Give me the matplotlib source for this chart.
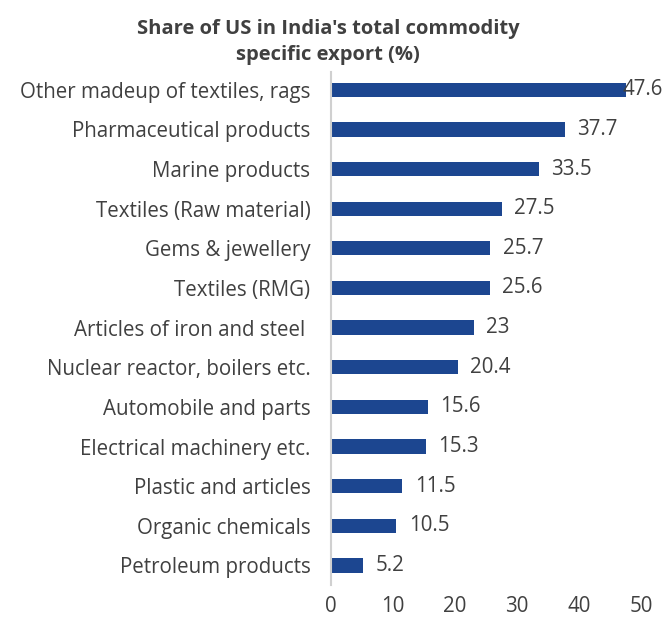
import matplotlib
matplotlib.use("Agg")
import matplotlib.pyplot as plt

# Share of the US in India's export of each commodity group, percent
commodities = [
    "Other madeup of textiles, rags",
    "Pharmaceutical products",
    "Marine products",
    "Textiles (Raw material)",
    "Gems & jewellery",
    "Textiles (RMG)",
    "Articles of iron and steel ",
    "Nuclear reactor, boilers etc.",
    "Automobile and parts",
    "Electrical machinery etc.",
    "Plastic and articles",
    "Organic chemicals",
    "Petroleum products",
]
us_share = [47.6, 37.7, 33.5, 27.5, 25.7, 25.6, 23, 20.4, 15.6, 15.3, 11.5, 10.5, 5.2]
share_labels = ["47.6", "37.7", "33.5", "27.5", "25.7", "25.6", "23", "20.4",
                "15.6", "15.3", "11.5", "10.5", "5.2"]
x_ticks = [0, 10, 20, 30, 40, 50]

BAR = "#1c4690"
TEXT = "#404040"
FS = 14.8
plt.rcParams["font.family"] = ["Open Sans", "DejaVu Sans"]

fig = plt.figure(figsize=(6.65, 6.2), dpi=100)
ax = fig.add_axes([0.498, 0.056, 0.466, 0.828])

pos = list(range(len(commodities)))
ax.barh(pos, us_share, height=0.36, color=BAR)
ax.set_ylim(12.5, -0.45)
ax.set_xlim(0, 50)

for i, (v, lab) in enumerate(zip(us_share, share_labels)):
    if v + 2 + 6 > 53:
        # no room right of the longest bar, pin label to the right edge
        ax.text(53.6, i, lab, ha="right", va="center", fontsize=FS, color=TEXT,
                clip_on=False)
    else:
        ax.text(v + 2, i, lab, ha="left", va="center", fontsize=FS, color=TEXT)

ax.set_yticks(pos)
ax.set_yticklabels(commodities, fontsize=FS, color=TEXT)
ax.set_xticks(x_ticks)
ax.set_xticklabels([str(t) for t in x_ticks], fontsize=FS, color=TEXT)
ax.tick_params(axis="y", length=0, pad=15)
ax.tick_params(axis="x", length=0, pad=8)

for side in ["top", "right", "bottom"]:
    ax.spines[side].set_visible(False)
ax.spines["left"].set_color("#d0d0d0")
ax.spines["left"].set_linewidth(1.5)

fig.text(0.493, 0.933, "Share of US in India's total commodity\nspecific export (%)",
         ha="center", va="center", fontsize=14.5, fontweight="bold", color=TEXT,
         linespacing=1.4)

fig.savefig("out.png", dpi=100)
